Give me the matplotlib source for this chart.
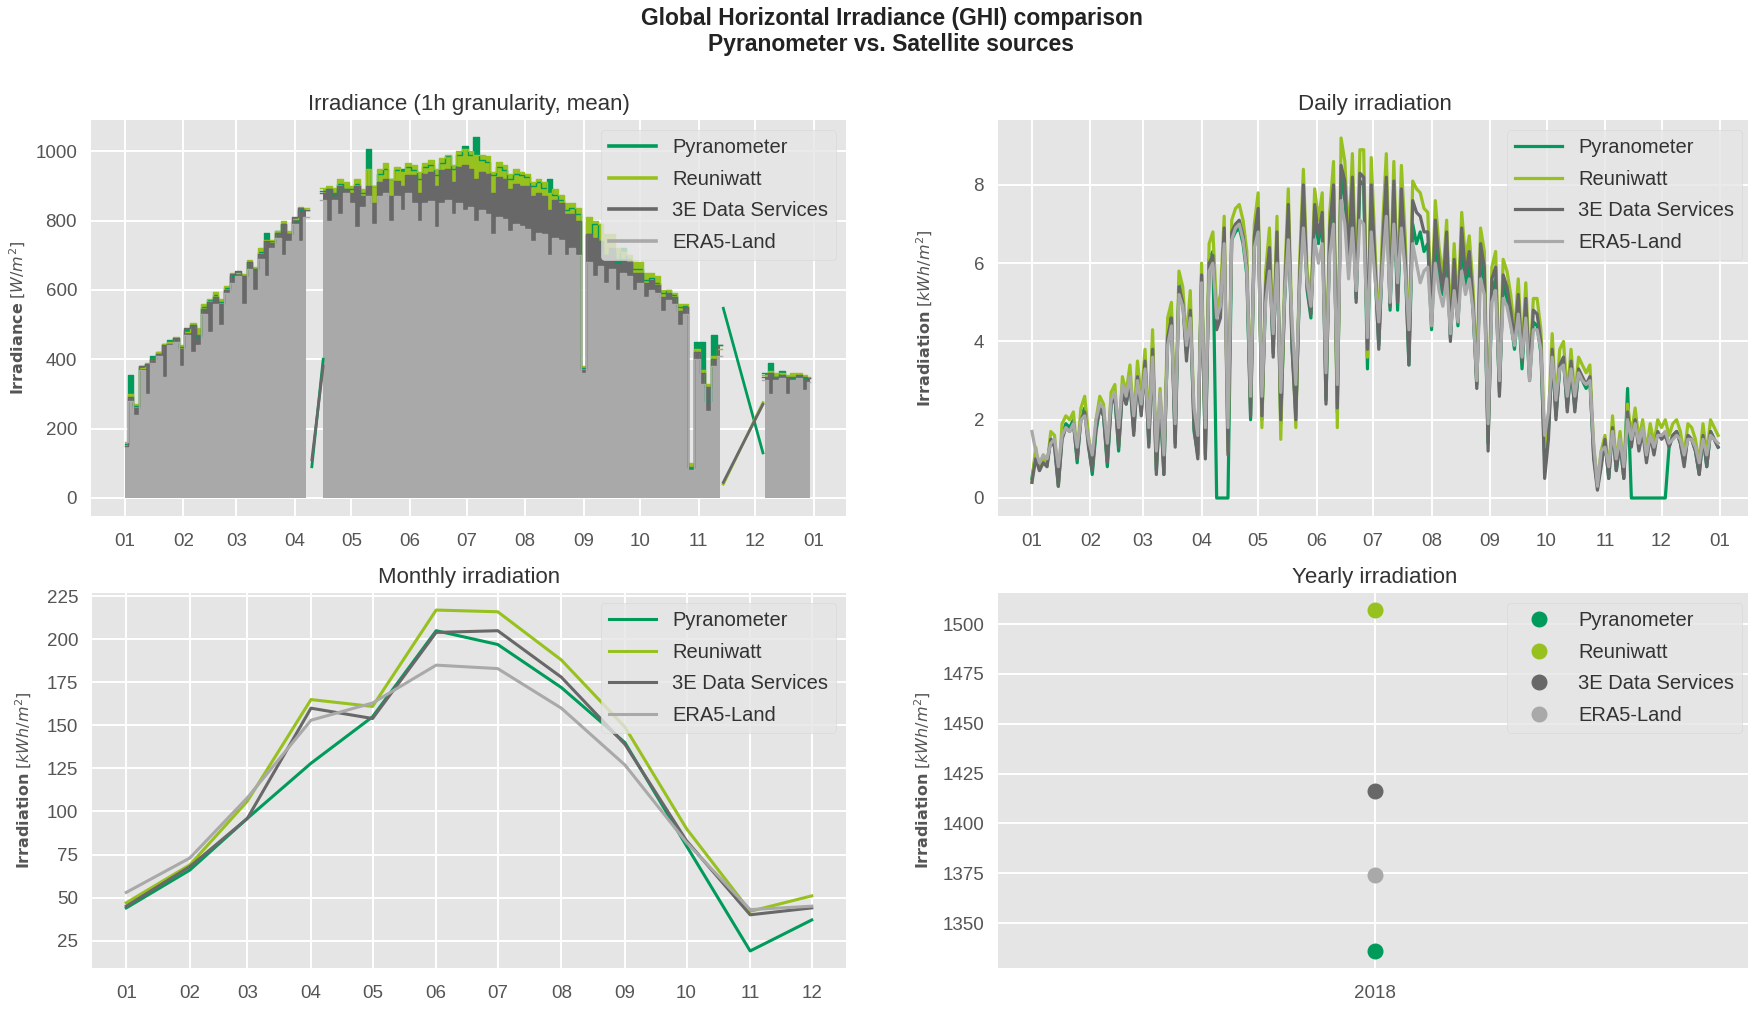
"""GHI comparison: pyranometer vs. satellite sources (hourly, daily, monthly, yearly)."""

import numpy as np
import matplotlib

matplotlib.use("Agg")
import matplotlib.pyplot as plt
import matplotlib.dates as mdates

nan = np.nan

SOURCES = ["Pyranometer", "Reuniwatt", "3E Data Services", "ERA5-Land"]
COLORS = ["#009b5a", "#97c11f", "#686868", "#a9a9a9"]

# Hourly irradiance: daily peak [W/m2], one value every 3 days from 2018-01-01
# (nan = no data)
HOURLY_STEP = 3
hourly_pyr = [
    155, 355, 265, 380, 385, 410, 420, 445, 455, 460, 435,  # Jan
    485, 500, 465, 550, 570, 585, 565, 605, 640,  # Feb
    650, 640, 680, 660, 710, 765, 740, 770, 790, 760,  # Mar
    800, 830, 830, nan, nan, 885, 890, 875, 905, 890,  # Apr
    890, 905, 880, 1005, 900, 935, 950, 920, 945, 950, 955,  # May
    945, 920, 955, 960, 930, 965, 985, 950, 990, 1015,  # Jun
    990, 1040, 975, 970, 930, 955, 945, 920, 935, 930,  # Jul
    925, 900, 910, 895, 920, 875, 860, 830, 835, 820,  # Aug
    375, 760, 790, 740, 700, 710, 680, 720, 690, 660,  # Sep
    660, 630, 635, 620, 590, 600, 585, 550, 555, 85, 450,  # Oct
    450, 280, 470, 440, nan, nan, nan, nan, nan, nan,  # Nov
    nan, 360, 390, 350, 365, 350, 345, 350, 345, 345,  # Dec
]
hourly_reun = [
    150, 300, 270, 375, 390, 400, 420, 445, 450, 465, 440,
    480, 505, 490, 560, 575, 595, 575, 610, 650,
    650, 645, 685, 665, 720, 745, 745, 770, 800, 770,
    805, 840, 835, nan, nan, 895, 900, 895, 920, 910,
    900, 920, 890, 950, 900, 950, 965, 920, 955, 940, 965,
    960, 940, 965, 975, 950, 980, 990, 960, 1000, 1005,
    1000, 990, 990, 985, 940, 970, 960, 935, 950, 940,
    935, 910, 920, 910, 880, 890, 875, 850, 850, 835,
    380, 810, 800, 790, 760, 760, 720, 710, 700, 680,
    680, 650, 650, 640, 600, 600, 590, 560, 560, 100, 430,
    370, 330, 410, 430, nan, nan, nan, nan, nan, nan,
    nan, 355, 365, 360, 360, 355, 360, 360, 355, 350,
]
hourly_3e = [
    150, 290, 260, 380, 385, 400, 415, 440, 445, 460, 430,
    490, 500, 470, 545, 565, 580, 560, 600, 645,
    655, 640, 680, 660, 705, 740, 735, 765, 790, 760,
    810, 835, 830, nan, nan, 880, 890, 880, 900, 890,
    880, 900, 870, 900, 850, 910, 920, 870, 915, 900, 930,
    930, 880, 935, 940, 900, 945, 950, 910, 955, 960,
    950, 920, 940, 935, 880, 925, 920, 890, 905, 900,
    900, 870, 880, 870, 830, 860, 850, 820, 820, 800,
    370, 760, 750, 740, 700, 720, 690, 690, 680, 650,
    650, 620, 630, 615, 580, 590, 580, 540, 550, 90, 420,
    360, 320, 400, 440, nan, nan, nan, nan, nan, nan,
    nan, 350, 360, 350, 355, 345, 350, 355, 350, 345,
]
hourly_era5 = [
    160, 280, 240, 370, 300, 390, 410, 350, 440, 450, 380,
    470, 420, 440, 530, 480, 560, 500, 590, 620,
    640, 560, 660, 600, 690, 640, 720, 750, 700, 740,
    790, 740, 810, nan, nan, 860, 800, 860, 820, 880,
    850, 780, 840, 870, 790, 870, 880, 800, 870, 830, 880,
    850, 800, 850, 855, 780, 850, 860, 820, 850, 830,
    840, 800, 830, 820, 760, 810, 805, 770, 790, 785,
    775, 740, 765, 760, 700, 750, 745, 700, 720, 700,
    360, 680, 640, 670, 620, 660, 600, 650, 640, 600,
    620, 580, 600, 590, 540, 570, 560, 500, 530, 80, 400,
    330, 250, 380, 410, nan, nan, nan, nan, nan, nan,
    nan, 340, 300, 340, 345, 300, 340, 345, 310, 335,
]

# hourly series are joined straight across the two data gaps
gap_apr_dates = ["2018-04-10", "2018-04-16"]
gap_nov_dates = ["2018-11-14", "2018-12-05"]
gap_apr_values = [[90, 400], None, [110, 380], None]
gap_nov_values = [[547, 130], [40, 275], [45, 270], None]

# Daily irradiation [kWh/m2], one value every 2 days from 2018-01-01
DAILY_STEP = 2
daily_pyr = [
    0.5, 1.1, 0.8, 1.0, 0.9, 1.5, 1.4, 0.3, 1.6, 1.9, 1.8, 2.0, 0.9, 2.1, 2.3, 1.4,  # Jan
    0.6, 1.7, 2.3, 2.1, 0.8, 2.4, 2.6, 1.2, 2.8, 2.4, 3.0, 1.7, 3.1, 2.2,  # Feb
    3.5, 1.4, 3.9, 0.7, 2.5, 0.6, 4.2, 4.7, 1.4, 5.5, 5.1, 3.7, 4.9, 1.7, 1.1,  # Mar
    5.7, 1.1, 6.1, 6.3, 0.0, 0.0, 0.0, 0.0, 6.6, 6.8, 6.9, 6.5, 5.7, 2.0, 6.6,  # Apr
    7.3, 2.0, 5.3, 6.3, 3.7, 6.6, 1.9, 5.0, 7.2, 3.9, 2.1, 5.5, 7.7, 5.3, 4.6, 7.3,  # May
    6.5, 7.2, 2.5, 6.7, 7.9, 2.2, 8.4, 7.6, 6.0, 8.0, 5.1, 8.1, 8.0, 3.3, 7.9,  # Jun
    5.8, 3.9, 6.2, 8.0, 4.8, 7.8, 4.8, 7.6, 6.0, 3.4, 7.0, 6.5, 6.8, 6.3, 6.5,  # Jul
    4.3, 6.8, 5.5, 5.2, 6.4, 4.1, 5.6, 4.4, 6.6, 5.3, 6.0, 4.8, 2.9, 6.2, 5.5, 1.4,  # Aug
    5.3, 5.6, 2.7, 5.5, 5.1, 4.5, 3.8, 4.9, 3.3, 4.9, 3.0, 4.5, 4.4, 3.7, 1.0,  # Sep
    1.7, 3.7, 2.1, 3.3, 3.5, 2.3, 3.3, 2.3, 3.2, 3.0, 2.8, 3.0, 1.1, 0.3, 0.9,  # Oct
    1.4, 0.5, 1.8, 0.7, 1.5, 0.5, 2.8, 0.0, 0.0, 0.0, 0.0, 0.0, 0.0, 0.0, 0.0,  # Nov
    0.0, 0.0, 1.3, 1.6, 1.7, 1.4, 0.9, 1.6, 1.5, 1.2, 0.6, 1.6, 0.8, 1.7, 1.5, 1.3,  # Dec
]
daily_reun = [
    0.4, 1.3, 0.7, 1.1, 0.8, 1.7, 1.6, 0.4, 1.9, 2.1, 2.0, 2.2, 1.1, 2.3, 2.6, 1.6,
    0.8, 2.0, 2.6, 2.4, 1.0, 2.7, 2.9, 1.4, 3.1, 2.7, 3.4, 2.0, 3.5, 2.5,
    3.8, 1.7, 4.3, 0.9, 2.8, 0.8, 4.6, 5.0, 1.7, 5.8, 5.4, 4.0, 5.3, 2.0, 1.3,
    6.0, 1.4, 6.5, 6.8, 4.8, 5.2, 7.2, 1.2, 7.1, 7.4, 7.5, 7.1, 6.3, 2.4, 7.0,
    7.8, 1.8, 5.8, 6.9, 4.0, 7.2, 1.5, 5.5, 7.9, 4.2, 1.8, 6.0, 8.4, 5.8, 5.0, 7.9,
    7.1, 7.8, 2.7, 7.3, 8.6, 1.8, 9.2, 8.6, 6.5, 8.8, 5.4, 8.9, 8.9, 3.6, 8.7,
    6.4, 4.2, 6.9, 8.8, 5.2, 8.6, 5.3, 8.5, 6.7, 3.8, 8.1, 7.9, 7.8, 7.4, 7.3,
    4.8, 7.6, 6.4, 5.6, 7.1, 4.4, 6.5, 4.8, 7.3, 6.1, 6.7, 5.4, 3.0, 6.9, 6.3, 1.6,
    5.9, 6.3, 2.9, 6.1, 5.8, 5.2, 4.2, 5.6, 3.7, 5.5, 3.3, 5.1, 5.1, 4.3, 1.3,
    2.0, 4.2, 2.4, 3.8, 4.0, 2.6, 3.8, 2.6, 3.6, 3.4, 3.2, 3.4, 1.3, 0.4, 1.2,
    1.6, 0.7, 2.1, 0.9, 1.7, 0.7, 2.4, 1.6, 2.3, 1.5, 2.0, 1.2, 1.9, 1.4, 2.0,
    1.8, 2.0, 1.6, 1.9, 2.0, 1.7, 1.1, 1.9, 1.8, 1.5, 0.9, 1.9, 1.1, 2.0, 1.8, 1.6,
]
daily_3e = [
    0.4, 1.0, 0.7, 0.9, 0.8, 1.5, 1.3, 0.3, 1.5, 1.8, 1.7, 1.9, 1.0, 2.0, 2.2, 1.3,
    0.7, 1.8, 2.3, 2.1, 0.9, 2.4, 2.6, 1.3, 2.7, 2.4, 3.0, 1.6, 3.1, 2.1,
    3.5, 1.3, 3.8, 0.6, 2.6, 0.6, 4.1, 4.6, 1.3, 5.4, 5.0, 3.5, 4.8, 1.8, 1.0,
    5.7, 1.0, 6.0, 6.2, 4.3, 4.6, 6.9, 1.1, 6.8, 7.0, 7.1, 6.7, 5.9, 2.1, 6.7,
    7.4, 2.1, 5.4, 6.4, 3.6, 6.8, 2.0, 5.1, 7.5, 3.8, 2.0, 5.6, 8.0, 5.4, 4.7, 7.5,
    6.7, 7.3, 2.4, 6.9, 8.0, 2.3, 8.5, 8.1, 6.1, 8.2, 5.0, 8.3, 8.2, 3.8, 8.0,
    6.0, 3.8, 6.4, 8.2, 4.9, 8.1, 5.0, 7.9, 6.2, 3.4, 7.6, 7.3, 7.2, 6.8, 6.8,
    4.5, 7.1, 6.0, 5.3, 6.8, 4.0, 6.1, 4.5, 6.9, 5.7, 6.3, 5.0, 2.8, 6.5, 5.9, 1.2,
    5.6, 5.9, 2.6, 5.7, 5.4, 4.8, 4.0, 5.2, 3.5, 5.1, 3.1, 4.8, 4.7, 4.0, 0.5,
    1.5, 3.8, 2.0, 3.4, 3.6, 2.2, 3.5, 2.2, 3.3, 3.1, 2.9, 3.1, 1.0, 0.2, 0.8,
    1.5, 0.5, 1.8, 0.7, 1.4, 0.5, 2.2, 1.3, 2.0, 1.2, 1.7, 0.9, 1.6, 1.1, 1.7,
    1.5, 1.6, 1.3, 1.6, 1.7, 1.4, 0.8, 1.6, 1.5, 1.2, 0.6, 1.6, 0.8, 1.7, 1.5, 1.3,
]
daily_era5 = [
    1.7, 1.2, 0.9, 1.1, 1.0, 1.4, 1.5, 0.8, 1.6, 1.8, 1.7, 1.9, 1.3, 2.0, 2.1, 1.5,
    1.1, 2.0, 2.4, 2.3, 1.4, 2.5, 2.7, 1.8, 2.9, 2.6, 3.1, 2.1, 3.0, 2.4,
    3.3, 1.8, 3.6, 1.2, 2.7, 1.1, 3.9, 4.4, 1.9, 5.2, 4.9, 3.9, 4.6, 2.3, 1.6,
    5.5, 1.8, 5.8, 6.0, 4.6, 4.9, 6.5, 1.8, 6.6, 6.9, 7.0, 6.6, 5.8, 2.6, 6.4,
    6.8, 2.6, 5.0, 5.8, 4.2, 6.0, 2.7, 5.1, 6.6, 4.5, 2.9, 5.4, 6.9, 5.5, 4.9, 6.6,
    6.0, 6.5, 3.2, 6.2, 7.0, 2.9, 7.6, 7.0, 5.6, 6.9, 5.3, 7.1, 7.0, 4.1, 6.8,
    5.6, 4.5, 5.9, 7.2, 5.0, 7.0, 5.5, 6.9, 5.8, 4.3, 6.5, 6.0, 5.5, 5.8, 5.9,
    4.4, 6.0, 5.3, 4.9, 5.6, 4.2, 5.3, 4.5, 5.8, 5.2, 5.6, 4.8, 3.0, 5.6, 5.2, 1.9,
    5.0, 5.3, 3.0, 5.1, 4.9, 4.4, 3.9, 4.7, 3.6, 4.6, 3.0, 4.3, 4.3, 3.8, 1.6,
    2.2, 3.6, 2.5, 3.3, 3.4, 2.6, 3.3, 2.6, 3.2, 3.0, 2.9, 3.0, 1.4, 0.3, 1.2,
    1.3, 0.8, 1.7, 1.0, 1.5, 0.8, 2.0, 1.5, 1.9, 1.4, 1.8, 1.1, 1.6, 1.3, 1.6,
    1.6, 1.7, 1.4, 1.5, 1.6, 1.5, 1.1, 1.5, 1.5, 1.3, 0.9, 1.5, 1.1, 1.6, 1.5, 1.4,
]

# Monthly irradiation [kWh/m2]
months = ["2018-%02d-01" % m for m in range(1, 13)]
monthly_pyr = [44, 66, 96, 128, 155, 205, 197, 172, 140, 80, 19, 37]
monthly_reun = [47, 69, 106, 165, 161, 217, 216, 188, 149, 90, 42, 51]
monthly_3e = [45, 68, 96, 160, 154, 204, 205, 178, 139, 83, 40, 44]
monthly_era5 = [53, 73, 108, 153, 163, 185, 183, 160, 127, 82, 43, 45]

# Yearly irradiation [kWh/m2]
year_label = "2018"
yearly = [1336, 1507, 1416, 1374]

START = np.datetime64("2018-01-01")
XLIM = (np.datetime64("2017-12-14"), np.datetime64("2019-01-18"))


def _dates(n, step):
    return START + np.arange(n) * np.timedelta64(step, "D")


def _add_legend(ax, handle_lw=None):
    leg = ax.legend(
        loc="upper right",
        fontsize=14.5,
        frameon=True,
        facecolor="#e5e5e5",
        edgecolor="#d6d6d6",
        framealpha=0.8,
        handlelength=2.3,
        labelspacing=0.62,
    )
    for txt in leg.get_texts():
        txt.set_color("#333333")
    if handle_lw is not None:
        for line in leg.get_lines():
            line.set_linewidth(handle_lw)
    return leg


def _month_axis(ax):
    ax.xaxis.set_major_locator(mdates.MonthLocator())
    ax.xaxis.set_major_formatter(mdates.DateFormatter("%m"))


plt.style.use("ggplot")
plt.rcParams.update(
    {
        "font.family": ["Liberation Sans", "DejaVu Sans"],
        "mathtext.fontset": "dejavusans",
        "axes.facecolor": "#e5e5e5",
        "axes.edgecolor": "#e5e5e5",
        "axes.linewidth": 0,
        "grid.color": "white",
        "grid.linewidth": 1.4,
        "xtick.color": "#555555",
        "ytick.color": "#555555",
        "xtick.labelsize": 13.5,
        "ytick.labelsize": 13.5,
        "xtick.major.size": 0,
        "ytick.major.size": 0,
        "xtick.major.pad": 12,
        "ytick.major.pad": 10,
        "axes.titlesize": 16,
        "axes.titlepad": 7,
        "axes.labelcolor": "#555555",
        "axes.labelsize": 11.5,
    }
)

fig = plt.figure(figsize=(17.48, 10.33), dpi=100)
W, H = 1748.0, 1033.0
ax_h = fig.add_axes([91 / W, 1 - 516 / H, 755 / W, 396 / H])
ax_d = fig.add_axes([998 / W, 1 - 516 / H, 754 / W, 396 / H])
ax_m = fig.add_axes([92 / W, 1 - 968 / H, 754 / W, 375 / H])
ax_y = fig.add_axes([998 / W, 1 - 968 / H, 754 / W, 375 / H])

kwh_label = r"$\bf{Irradiation}$ $[kWh/m^2]$"

# --- hourly irradiance -------------------------------------------------------
hourly_series = [hourly_pyr, hourly_reun, hourly_3e, hourly_era5]
hourly_dates = _dates(len(hourly_pyr), HOURLY_STEP)
apr_x = np.array(gap_apr_dates, dtype="datetime64[D]")
nov_x = np.array(gap_nov_dates, dtype="datetime64[D]")
for name, color, peaks, g_apr, g_nov in zip(
    SOURCES, COLORS, hourly_series, gap_apr_values, gap_nov_values
):
    y = np.array(peaks, dtype=float)
    ax_h.fill_between(hourly_dates, 0, y, step="mid", color=color, lw=0)
    ax_h.plot(hourly_dates, y, drawstyle="steps-mid", color=color, lw=1.0, label=name)
    if g_apr is not None:
        ax_h.plot(apr_x, g_apr, color=color, lw=2.0)
    if g_nov is not None:
        ax_h.plot(nov_x, g_nov, color=color, lw=2.0)

ax_h.set_xlim(*XLIM)
ax_h.set_ylim(-52, 1090)
_month_axis(ax_h)
ax_h.set_title("Irradiance (1h granularity, mean)", color="#333333")
ax_h.set_ylabel(r"$\bf{Irradiance}$ $[W/m^2]$", labelpad=5)
_add_legend(ax_h, handle_lw=2.6)

# --- daily irradiation -------------------------------------------------------
daily_series = [daily_pyr, daily_reun, daily_3e, daily_era5]
daily_dates = _dates(len(daily_pyr), DAILY_STEP)
for name, color, vals in zip(SOURCES, COLORS, daily_series):
    ax_d.plot(daily_dates, vals, color=color, lw=2.3, label=name)

ax_d.set_xlim(*XLIM)
_month_axis(ax_d)
ax_d.set_title("Daily irradiation", color="#333333")
ax_d.set_ylabel(kwh_label, labelpad=28)
_add_legend(ax_d)

# --- monthly irradiation -----------------------------------------------------
month_dates = np.array(months, dtype="datetime64[D]")
monthly_series = [monthly_pyr, monthly_reun, monthly_3e, monthly_era5]
for name, color, vals in zip(SOURCES, COLORS, monthly_series):
    ax_m.plot(month_dates, vals, color=color, lw=2.2, label=name)

ax_m.set_xticks(month_dates)
ax_m.xaxis.set_major_formatter(mdates.DateFormatter("%m"))
ax_m.set_yticks(np.arange(25, 226, 25))
ax_m.set_title("Monthly irradiation", color="#333333")
ax_m.set_ylabel(kwh_label, labelpad=9)
_add_legend(ax_m)

# --- yearly irradiation ------------------------------------------------------
for name, color, val in zip(SOURCES, COLORS, yearly):
    ax_y.plot([0], [val], "o", ms=10.5, color=color, label=name)

ax_y.set_xlim(-1, 1)
ax_y.set_xticks([0])
ax_y.set_xticklabels([year_label])
ax_y.set_yticks(np.arange(1350, 1501, 25))
ax_y.set_title("Yearly irradiation", color="#333333")
ax_y.set_ylabel(kwh_label, labelpad=7)
_add_legend(ax_y)

fig.suptitle(
    "Global Horizontal Irradiance (GHI) comparison\nPyranometer vs. Satellite sources",
    x=0.51,
    y=0.993,
    fontsize=16.5,
    fontweight="bold",
    color="#222222",
    linespacing=1.15,
)

fig.savefig("out.png", dpi=100)
